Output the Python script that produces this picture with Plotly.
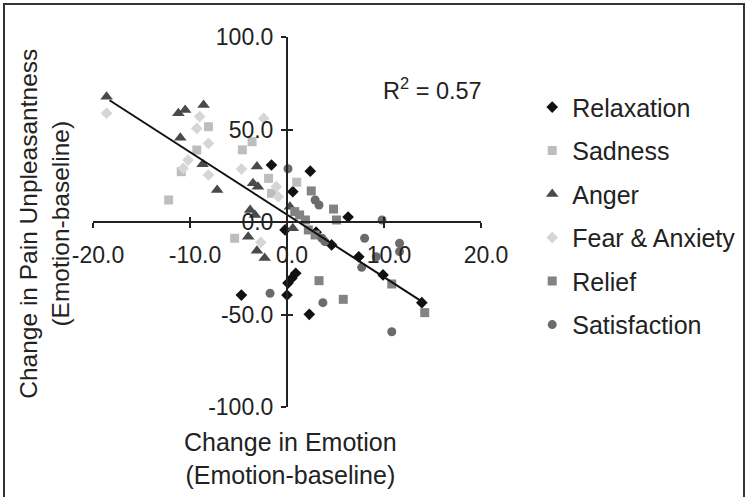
import plotly.graph_objects as go

# Change in emotion (x) vs change in pain unpleasantness (y), per emotion
relax_x = [-1.6, 2.4, 0.6, 6.3, -0.2, 3.0, 4.6, 7.4, 9.9, 13.9, 0.9, 0.5, 0.1, 0.0, -4.7, 2.3]
relax_y = [30.8, 27.5, 16.4, 2.7, -4.3, -5.5, -12.4, -18.8, -28.6, -43.6, -27.7, -30.4, -33.0, -39.5, -39.5, -49.9]

sad_x = [-11.7, -8.1, -4.6, -3.6, -9.3, -10.9, -1.9, 1.0, -1.6, -12.2, -5.4]
sad_y = [101.0, 51.5, 39.0, 43.4, 38.9, 27.2, 23.6, 21.5, 15.5, 11.9, -8.8]

anger_x = [-18.6, -11.2, -10.5, -8.6, -11.0, -8.7, -7.2, -3.1, -3.5, -3.0, -3.8, -3.3, 0.3, -4.0, -3.1, -2.3, 0.6]
anger_y = [67.7, 58.8, 60.5, 63.2, 45.5, 31.2, 17.3, 30.0, 20.9, 19.1, 6.5, 3.8, 8.3, -8.0, -15.5, -19.5, -3.4]

fear_x = [-18.6, -9.0, -9.3, -2.4, -8.1, -10.2, -10.7, -8.1, -4.7, -1.1, -0.9, -2.7]
fear_y = [58.8, 57.0, 50.6, 56.0, 42.5, 33.5, 29.0, 25.4, 28.6, 19.1, 13.7, -11.0]

relief_x = [2.5, 4.8, 5.1, 0.8, 1.3, 1.9, 2.2, 2.9, 3.3, 5.8, 10.8, 14.2]
relief_y = [16.8, 7.0, 1.1, 5.6, 3.8, 1.1, -4.3, -7.0, -31.7, -41.8, -33.5, -49.0]

sat_x = [0.1, 2.9, 3.3, 9.8, 8.0, 3.6, 3.9, 11.6, 11.6, 9.2, 7.7, -1.75, 3.7, 10.8]
sat_y = [28.8, 11.9, 9.2, 1.1, -8.8, -8.8, -10.6, -11.5, -16.0, -18.8, -24.5, -38.5, -43.6, -59.3]

# Linear trendline end points
trend_x = [-18.3, 14.2]
trend_y = [65.8, -44.0]
r_squared = 0.57

x_ticks = [-20, -10, 0, 10, 20]
x_ticktext = ["-20.0", "-10.0", "0.0", "10.0", "20.0"]
y_ticks = [-100, -50, 0, 50, 100]
y_ticktext = ["-100.0", "-50.0", "0.0", "50.0", "100.0"]

FONT = "Arial, Liberation Sans, sans-serif"
INK = "#222222"

series = [
    ("Relaxation", relax_x, relax_y, "diamond", 9, "#111111"),
    ("Sadness", sad_x, sad_y, "square", 9, "#bdbdbd"),
    ("Anger", anger_x, anger_y, "triangle-up", 11, "#4a4a4a"),
    ("Fear & Anxiety", fear_x, fear_y, "diamond", 9, "#d6d6d6"),
    ("Relief", relief_x, relief_y, "square", 9, "#838383"),
    ("Satisfaction", sat_x, sat_y, "circle", 9, "#6b6b6b"),
]

fig = go.Figure()
for i, (name, xs, ys, sym, size, col) in enumerate(series):
    fig.add_trace(go.Scatter(
        x=xs, y=ys, mode="markers", name=name,
        marker=dict(symbol=sym, size=size, color=col, line=dict(width=0)),
        cliponaxis=False, legendgroup=f"g{i}",
    ))

fig.add_trace(go.Scatter(
    x=trend_x, y=trend_y, mode="lines", showlegend=False,
    line=dict(color="#111111", width=2), hoverinfo="skip",
))

# helper trace so the overlaid tick axes are drawn
fig.add_trace(go.Scatter(x=[None], y=[None], xaxis="x2", yaxis="y2",
                         showlegend=False, hoverinfo="skip"))

tickfont = dict(family=FONT, size=23, color=INK)

fig.update_layout(
    width=748, height=497,
    margin=dict(l=93, r=267, t=37, b=90, autoexpand=False),
    paper_bgcolor="white", plot_bgcolor="white",
    font=dict(family=FONT, color=INK),
    xaxis=dict(
        range=[-20, 20], anchor="free", position=0.5,
        showline=True, linecolor=INK, linewidth=2,
        ticks="outside", ticklen=5, tickwidth=2, tickcolor=INK,
        tickvals=x_ticks, ticktext=x_ticktext, tickfont=tickfont,
        ticklabelstandoff=7, ticklabelshift=5,
        showgrid=False, zeroline=False,
    ),
    yaxis=dict(
        range=[-100, 100], anchor="free", position=0.5,
        showline=True, linecolor=INK, linewidth=2,
        ticks="outside", ticklen=5, tickwidth=2, tickcolor=INK,
        tickvals=y_ticks, ticktext=y_ticktext, tickfont=tickfont,
        ticklabelstandoff=3,
        showgrid=False, zeroline=False,
    ),
    xaxis2=dict(
        range=[-20, 20], overlaying="x", anchor="free", position=0.5,
        ticks="inside", ticklen=5, tickwidth=2, tickcolor=INK,
        tickvals=x_ticks, showticklabels=False, showline=False,
        showgrid=False, zeroline=False,
    ),
    yaxis2=dict(
        range=[-100, 100], overlaying="y", anchor="free", position=0.5,
        ticks="inside", ticklen=5, tickwidth=2, tickcolor=INK,
        tickvals=y_ticks, showticklabels=False, showline=False,
        showgrid=False, zeroline=False,
    ),
    legend=dict(
        x=1.132, y=0.872, xanchor="left", yanchor="top",
        font=dict(family=FONT, size=25, color=INK),
        tracegroupgap=8, bgcolor="rgba(0,0,0,0)",
    ),
    showlegend=True,
)

fig.add_annotation(
    xref="paper", yref="paper", x=0.876, y=0.859,
    xanchor="center", yanchor="middle",
    text=f"R<sup>2</sup> = {r_squared:.2f}", showarrow=False,
    font=dict(family=FONT, size=23.5, color=INK),
)
fig.add_annotation(
    xref="paper", yref="paper", x=0.51, y=-0.14,
    xanchor="center", yanchor="middle",
    text="Change in Emotion<br>(Emotion-baseline)", showarrow=False,
    font=dict(family=FONT, size=25, color=INK),
)
fig.add_annotation(
    xref="paper", yref="paper", x=-0.124, y=0.495, textangle=-90,
    xanchor="center", yanchor="middle",
    text="Change in Pain Unpleasantness<br>(Emotion-baseline)", showarrow=False,
    font=dict(family=FONT, size=24.5, color=INK),
)

# outer frame
fig.add_shape(type="rect", xref="paper", yref="paper",
              x0=(4 - 93) / 388, x1=(744 - 93) / 388,
              y0=(407 - 502) / 370, y1=(407 - 4) / 370,
              line=dict(color="#333333", width=2))

fig.write_html("out.html")
